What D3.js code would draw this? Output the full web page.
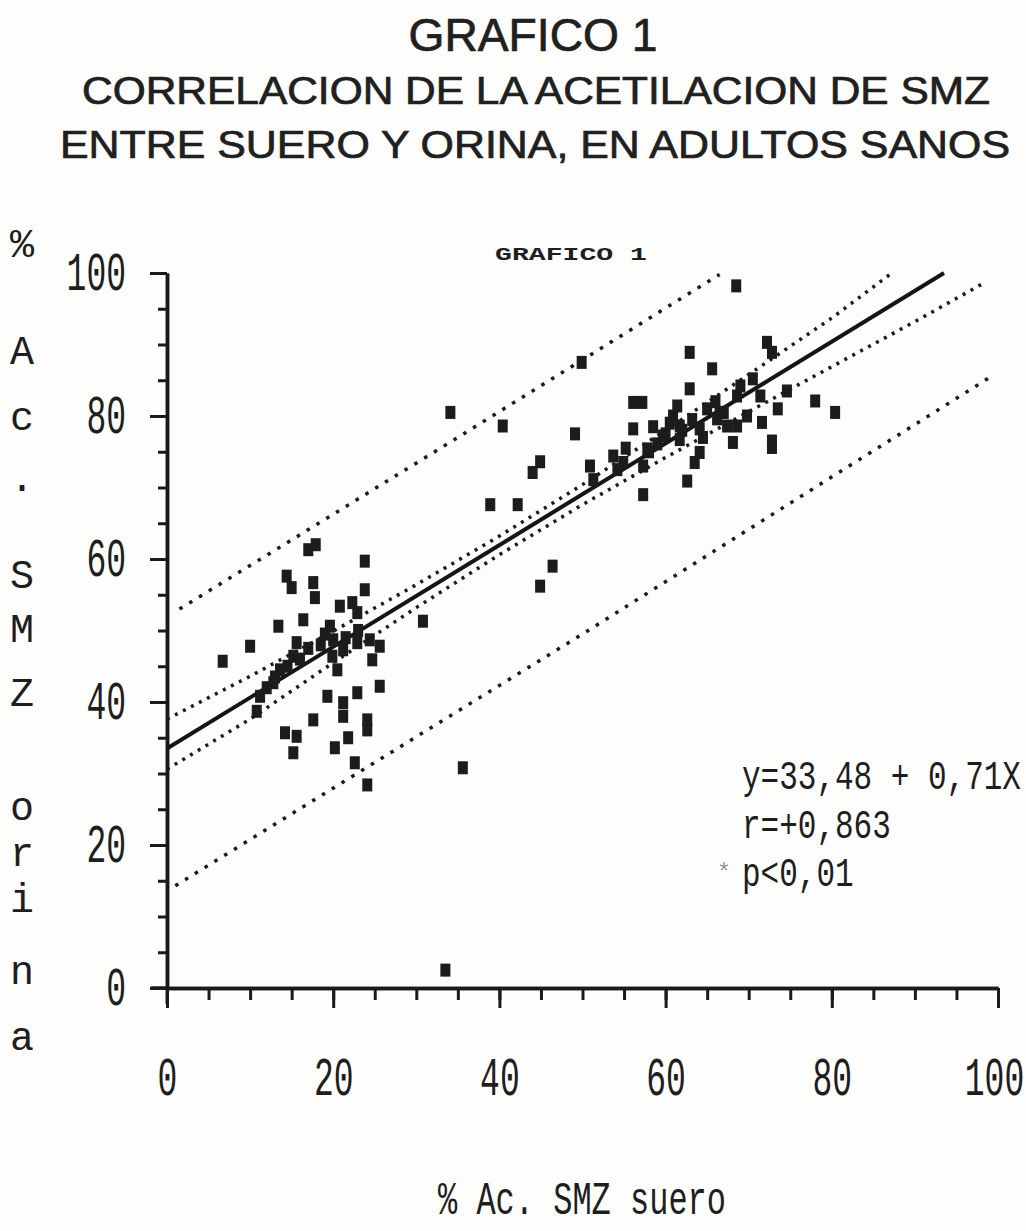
<!DOCTYPE html>
<html>
<head>
<meta charset="utf-8">
<script src="https://cdn.jsdelivr.net/npm/d3@7"></script>
<style>
  body { margin: 0; background: #fdfdfc; }
  svg { display: block; }
  .mono { font-family: "Liberation Mono", "DejaVu Sans Mono", monospace; fill: #1e1e1e; }
  .title { font-family: "Liberation Sans Narrow", "Liberation Sans", sans-serif; fill: #202020; stroke: #202020; stroke-width: 0.7; }
</style>
</head>
<body>
<div id="chart"></div>
<script>
// ---- data ----
var xTicks = [0, 20, 40, 60, 80, 100];
var yTicks = [0, 20, 40, 60, 80, 100];
var minorTicks = [0, 5, 10, 15, 20, 25, 30, 35, 40, 45, 50, 55, 60, 65, 70, 75, 80, 85, 90, 95, 100];

// % acetylation SMZ serum (x) and urine (y)
var suero = [17.0, 17.9, 23.8, 14.4, 15.0, 17.6, 17.8, 23.8, 13.4, 10.0, 6.7, 20.8, 22.3, 22.9, 19.6,
  20.0, 16.4, 15.6, 15.2, 13.6, 12.8, 11.2, 10.8, 25.6, 19.3, 21.2, 22.9, 21.2, 24.1, 24.1,
  17.6, 14.2, 15.6, 15.2, 20.2, 21.8, 22.6, 24.1, 25.6, 22.9, 21.2, 19.9, 20.5, 24.4, 24.7,
  12.0, 13.0, 14.5, 16.0, 17.0, 18.5, 19.0, 21.5, 23.0,
  30.8, 34.1, 40.4, 49.1, 49.9, 44.0, 44.9, 38.9, 42.2, 46.4, 44.9, 35.6, 33.5,
  62.9, 65.6, 72.2, 72.8, 56.1, 57.2, 56.1, 50.9, 53.7, 54.9, 57.3, 62.6, 63.5, 64.1, 68.1,
  68.6, 72.8, 72.8, 71.6, 69.8, 73.5, 74.6, 78.0, 80.4, 60.9, 61.7, 62.9, 61.7, 64.1, 66.5,
  67.4, 69.0, 70.5, 71.4, 68.6, 59.0, 57.8, 54.2, 51.3, 57.3, 59.7, 61.4, 66.2, 68.5,
  58.0, 60.0, 62.0, 63.2, 65.0, 66.0, 67.0, 58.5, 55.2, 64.5, 60.5];
var orina = [61.3, 62.0, 59.7, 57.6, 56.0, 56.7, 54.6, 55.7, 50.6, 47.8, 45.7, 53.4, 53.9, 52.5, 50.6,
  48.7, 51.5, 48.3, 46.4, 44.5, 42.7, 40.8, 38.7, 42.2, 40.8, 39.9, 41.3, 38.0, 37.5, 36.1,
  37.5, 35.7, 35.2, 32.9, 33.6, 35.0, 31.5, 28.4, 47.8, 48.3, 47.3, 46.4, 44.5, 48.7, 45.9,
  42.0, 43.5, 45.0, 46.0, 47.5, 48.0, 49.5, 49.0, 50.0,
  51.3, 80.5, 78.6, 77.5, 87.5, 72.1, 73.6, 67.6, 67.6, 59.0, 56.2, 30.8, 2.5,
  88.9, 86.6, 90.3, 88.9, 81.9, 81.9, 78.2, 73.0, 74.4, 73.5, 69.0, 70.9, 73.5, 74.9, 76.3,
  78.6, 76.5, 75.6, 79.1, 80.0, 81.0, 83.5, 82.1, 80.5, 80.0, 78.6, 83.8, 76.7, 78.2, 80.5,
  78.6, 84.2, 85.2, 82.8, 82.8, 76.1, 75.4, 72.5, 71.1, 73.0, 77.2, 81.4, 79.6, 98.2,
  75.0, 77.5, 78.0, 79.5, 81.0, 82.0, 80.5, 78.5, 75.5, 77.0, 79.0];

// regression line y = 33,48 + 0,71x (end points as drawn)
var regX = [0, 93.5];
var regY = [33.5, 100];

// inner (confidence) bands
var upInX = [0, 10, 20, 30, 40, 50, 60, 70, 80, 87];
var upInY = [37.6, 43.6, 49.9, 56.4, 63.2, 70.4, 78.0, 85.8, 93.7, 99.8];
var loInX = [0, 10, 20, 30, 40, 50, 60, 70, 80, 90, 98];
var loInY = [30.6, 37.6, 45.5, 53.2, 60.6, 67.6, 74.2, 80.6, 86.9, 93.2, 98.4];

// outer (prediction) bands
var upOutX = [1.5, 35, 66.5];
var upOutY = [53.0, 77.0, 99.8];
var loOutX = [1.0, 50, 99];
var loOutY = [14.3, 49.5, 85.4];

var yLetters = ["%", "A", "c", ".", "S", "M", "Z", "o", "r", "i", "n", "a"];

// ---- layout ----
var W = 1026, H = 1231;
var margin = { top: 273, left: 167 };
var width = 831, height = 715;
var tall = 1.6; // printer digits are tall and narrow

var svg = d3.select("#chart").append("svg")
  .attr("width", W).attr("height", H);

svg.append("rect").attr("width", W).attr("height", H).attr("fill", "#fdfdfc");

// titles
var titles = [
  { t: "GRAFICO 1", x: 533, y: 51, size: 46, len: 249 },
  { t: "CORRELACION DE LA ACETILACION DE SMZ", x: 536, y: 104, size: 38, len: 908 },
  { t: "ENTRE SUERO Y ORINA, EN ADULTOS SANOS", x: 535, y: 158, size: 38, len: 950 }
];
svg.selectAll("text.title").data(titles).enter().append("text")
  .attr("class", "title")
  .attr("x", function(d) { return d.x; })
  .attr("y", function(d) { return d.y; })
  .attr("text-anchor", "middle")
  .attr("font-size", function(d) { return d.size; })
  .attr("textLength", function(d) { return d.len; })
  .attr("lengthAdjust", "spacingAndGlyphs")
  .text(function(d) { return d.t; });

var g = svg.append("g")
  .attr("transform", "translate(" + margin.left + "," + margin.top + ")");

var x = d3.scaleLinear().domain([0, 100]).range([0, width]);
var y = d3.scaleLinear().domain([0, 100]).range([height, 0]);

// small header inside the plot
g.append("text").attr("class", "mono")
  .attr("x", 404).attr("y", -13)
  .attr("text-anchor", "middle")
  .attr("font-size", 19).attr("font-weight", "bold")
  .attr("textLength", 152).attr("lengthAdjust", "spacingAndGlyphs")
  .text("GRAFICO 1");

// ---- axes ----
var yMinor = d3.axisLeft(y).tickValues(minorTicks).tickSize(9).tickSizeOuter(0).tickFormat("");
var yMajor = d3.axisLeft(y).tickValues(yTicks).tickSize(17).tickSizeOuter(0).tickPadding(24);
var xMinor = d3.axisBottom(x).tickValues(minorTicks).tickSize(12).tickSizeOuter(0).tickFormat("");
var xMajor = d3.axisBottom(x).tickValues(xTicks).tickSize(20).tickSizeOuter(0).tickPadding(50);

var yMinG = g.append("g").call(yMinor);
var yMajG = g.append("g").call(yMajor);
var xMinG = g.append("g").attr("transform", "translate(0," + height + ")").call(xMinor);
var xMajG = g.append("g").attr("transform", "translate(0," + height + ")").call(xMajor);

[yMinG, yMajG, xMinG, xMajG].forEach(function(a) {
  a.selectAll("path.domain").attr("stroke", "#1a1a1a").attr("stroke-width", 3.5);
  a.selectAll(".tick line").attr("stroke", "#1a1a1a").attr("stroke-width", 3);
});
yMajG.selectAll("text")
  .attr("class", "mono")
  .attr("font-size", 33)
  .attr("transform", "scale(1," + tall + ")");
xMajG.selectAll("text")
  .attr("class", "mono")
  .attr("font-size", 33)
  .attr("y", null)
  .attr("dy", "0.71em")
  .attr("transform", function(d) {
    return "translate(" + (d === 100 ? -4 : 0) + ",70) scale(1," + tall + ")";
  });

// axis extensions past the origin
g.append("line").attr("x1", -16).attr("x2", 0).attr("y1", height).attr("y2", height)
  .attr("stroke", "#1a1a1a").attr("stroke-width", 3.5);
g.append("line").attr("x1", 0).attr("x2", 0).attr("y1", height).attr("y2", height + 16)
  .attr("stroke", "#1a1a1a").attr("stroke-width", 3);

// y axis title, one letter per row
var letterY = [243, 350, 416, 477, 574, 628, 692, 806, 852, 898, 970, 1036];
svg.selectAll("text.ylet").data(yLetters).enter().append("text")
  .attr("class", "mono ylet")
  .attr("x", 22)
  .attr("y", function(d, i) { return letterY[i]; })
  .attr("dy", "0.35em")
  .attr("text-anchor", "middle")
  .attr("font-size", 40)
  .text(function(d) { return d; });

// x axis title
svg.append("text").attr("class", "mono")
  .attr("transform", "translate(582,1214) scale(1,1.45)")
  .attr("text-anchor", "middle")
  .attr("font-size", 32)
  .text("% Ac. SMZ suero");

// ---- lines ----
function zip(xs, ys) { return xs.map(function(v, i) { return [v, ys[i]]; }); }
var line = d3.line().x(function(d) { return x(d[0]); }).y(function(d) { return y(d[1]); });

var bands = [
  { pts: zip(upOutX, upOutY), dash: "3.5,8" },
  { pts: zip(loOutX, loOutY), dash: "3.5,8" },
  { pts: zip(upInX, upInY), dash: "3,6" },
  { pts: zip(loInX, loInY), dash: "3,6" }
];
g.selectAll("path.band").data(bands).enter().append("path")
  .attr("class", "band")
  .attr("d", function(d) { return line(d.pts); })
  .attr("fill", "none")
  .attr("stroke", "#1a1a1a")
  .attr("stroke-width", 3.5)
  .attr("stroke-dasharray", function(d) { return d.dash; });

g.append("path")
  .attr("d", line(zip(regX, regY)))
  .attr("fill", "none")
  .attr("stroke", "#151515")
  .attr("stroke-width", 4);

// ---- points ----
var pts = zip(suero, orina);
g.selectAll("rect.pt").data(pts).enter().append("rect")
  .attr("class", "pt")
  .attr("x", function(d) { return x(d[0]) - 5; })
  .attr("y", function(d) { return y(d[1]) - 6.5; })
  .attr("width", 10).attr("height", 13)
  .attr("fill", "#1c1c1c");

// ---- annotation ----
var notes = [
  { t: "y=33,48 + 0,71X", y: 789 },
  { t: "r=+0,863", y: 838 },
  { t: "p<0,01", y: 886 }
];
svg.selectAll("text.note").data(notes).enter().append("text")
  .attr("class", "mono note")
  .attr("transform", function(d) { return "translate(742," + d.y + ") scale(1,1.3)"; })
  .attr("font-size", 31)
  .text(function(d) { return d.t; });
svg.append("text").attr("class", "mono")
  .attr("x", 724).attr("y", 880)
  .attr("text-anchor", "middle")
  .attr("font-size", 24)
  .style("fill", "#9a9a9a")
  .text("*");
</script>
</body>
</html>
